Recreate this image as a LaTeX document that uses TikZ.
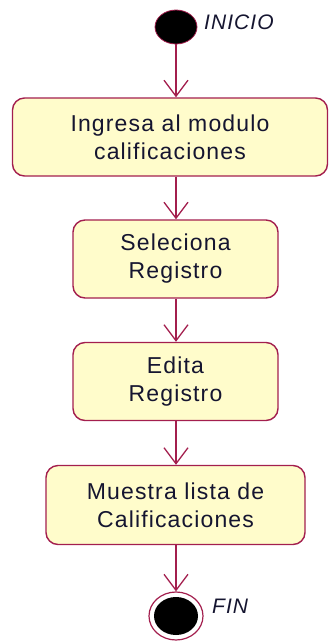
\documentclass[tikz,border=0pt]{standalone}
\usepackage{fontspec}
\setmainfont{Liberation Sans}
\newfontfamily\umlfont[LetterSpace=5]{Liberation Sans}
\usetikzlibrary{arrows.meta, positioning}
\definecolor{umlRed}{HTML}{A31F4E}
\definecolor{umlFill}{HTML}{FFFCCB}
\definecolor{umlText}{HTML}{151530}
\tikzset{
    x=1pt, y=1pt,
    >={Straight Barb[length=16pt, width=24pt, line width=1.3pt]},
    % Shapes
    activity/.style={rectangle, draw=umlRed, fill=umlFill, line width=1.4pt,
                     rounded corners=12pt, minimum height=78pt, align=center,
                     text=umlText, font=\umlfont\fontsize{23}{28}\selectfont},
    startDot/.style={ellipse, draw=umlRed, fill=black, line width=0.8pt,
                     minimum width=42pt, minimum height=34pt, inner sep=0pt},
    endRing/.style={ellipse, draw=umlRed, fill=white, line width=1.2pt,
                    minimum width=54pt, minimum height=48pt, inner sep=0pt},
    endDot/.style={ellipse, fill=black, minimum width=44pt, minimum height=38pt, inner sep=0pt},
    % Flow & Labels
    flow/.style={->, line width=1.3pt, umlRed},
    lbl/.style={font=\umlfont\fontsize{21}{24}\selectfont\itshape, text=umlText, inner sep=2pt}
}
\usetikzlibrary{shapes.geometric}
\begin{document}
\begin{tikzpicture}
\useasboundingbox (0,0) rectangle (329,-641);

\node[startDot] (inicio) at (176,-27) {};
\node[lbl, anchor=west] (inicioLbl) at (202,-22) {INICIO};

\node[activity, minimum width=315pt] (ingresa) at (170,-137) {Ingresa al modulo\\calificaciones};
\node[activity, minimum width=205pt] (selec) at (175.5,-259) {Seleciona\\Registro};
\node[activity, minimum width=205pt] (edita) at (175.5,-381.5) {Edita\\Registro};
\node[activity, minimum width=259pt, minimum height=79pt] (muestra) at (175.5,-505) {Muestra lista de\\Calificaciones};

\node[endRing] (fin) at (176,-616) {};
\node[endDot] (finDot) at (fin) {};
\node[lbl, anchor=west] (finLbl) at (210,-606) {FIN};

\draw[flow] (inicio) -- (inicio |- ingresa.north);
\draw[flow] (inicio |- ingresa.south) -- (inicio |- selec.north);
\draw[flow] (inicio |- selec.south) -- (inicio |- edita.north);
\draw[flow] (inicio |- edita.south) -- (inicio |- muestra.north);
\draw[flow] (inicio |- muestra.south) -- (fin);

\end{tikzpicture}
\end{document}
